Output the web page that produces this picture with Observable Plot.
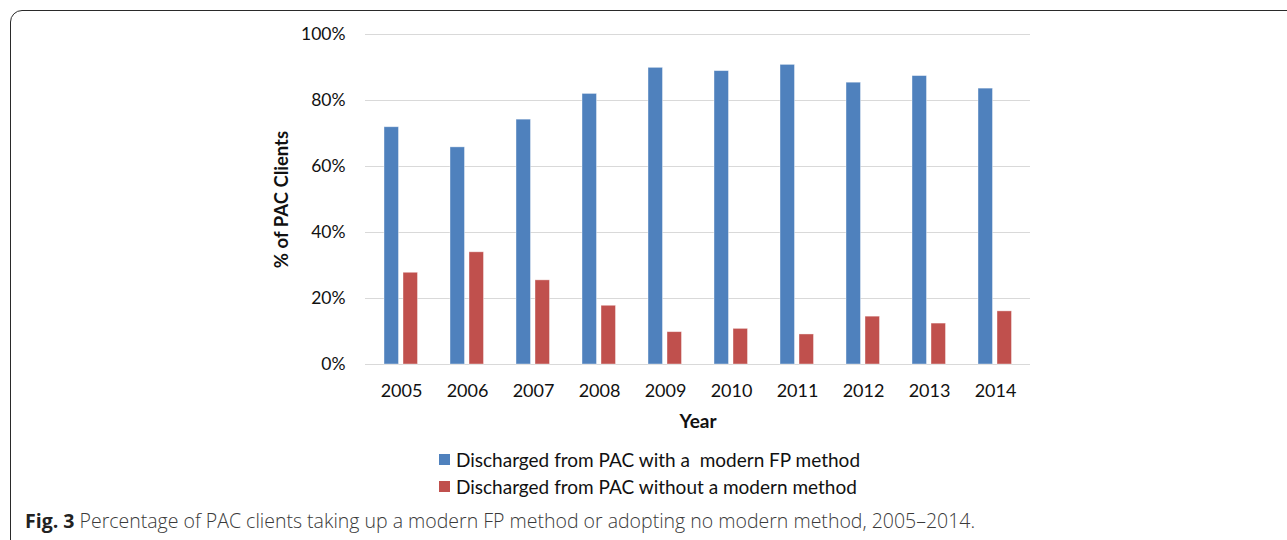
<!DOCTYPE html>
<html>
<head>
<meta charset="utf-8">
<script src="https://cdn.jsdelivr.net/npm/d3@7"></script>
<script src="https://cdn.jsdelivr.net/npm/@observablehq/plot@0.6"></script>
<style>
  html, body { margin: 0; padding: 0; background: #fff; }
  #wrap { position: relative; width: 1287px; height: 540px; overflow: hidden; }
  #frame { position: absolute; left: 10px; top: 10px; width: 1400px; height: 600px;
           border: 1.5px solid #2a2a2a; border-top-left-radius: 12px; box-sizing: border-box; }
  #chart { position: absolute; left: 0; top: 0; }
  #legend { position: absolute; left: 439px; top: 446px; font-family: Lato, sans-serif; font-size: 19px; color: #111; }
  .row { display: flex; align-items: center; height: 27px; white-space: pre; }
  .sw { width: 11px; height: 11px; margin-right: 6px; flex: none; }
  #caption { position: absolute; left: 25px; top: 509px; font-family: "Open Sans", sans-serif; font-size: 19.5px;
             line-height: 24px; color: #3a3a3a; font-weight: 300; white-space: nowrap; }
  #caption b { font-weight: 700; color: #222; }
</style>
</head>
<body>
<div id="wrap">
  <div id="frame"></div>
  <div id="chart"></div>
  <div id="legend"></div>
  <div id="caption"><b>Fig. 3</b> Percentage of PAC clients taking up a modern FP method or adopting no modern method, 2005–2014.</div>
</div>
<script>
const years = ["2005","2006","2007","2008","2009","2010","2011","2012","2013","2014"];
const withMethod = [71.9, 65.8, 74.2, 82.0, 89.9, 88.9, 90.8, 85.4, 87.4, 83.6];
const withoutMethod = [27.8, 34.0, 25.5, 17.8, 9.8, 10.8, 9.1, 14.5, 12.4, 16.1];
const seriesNames = ["Discharged from PAC with a  modern FP method", "Discharged from PAC without a modern method"];
const seriesColors = ["#4f81bd", "#c0504d"];
const yTicks = [0, 20, 40, 60, 80, 100];
const xTitle = "Year";
const yTitle = "% of PAC Clients";

const chart = Plot.plot({
  width: 1287,
  height: 440,
  marginTop: 34,
  marginBottom: 76,
  marginLeft: 365,
  marginRight: 257,
  style: { fontFamily: "Lato, sans-serif", fontSize: "17.5px", color: "#111", background: "transparent", overflow: "visible" },
  x: { domain: years, padding: 0 },
  y: { domain: [0, 100] },
  color: { domain: seriesNames, range: seriesColors },
  marks: [
    Plot.gridY(yTicks, { stroke: "#d9d9d9", strokeOpacity: 1, strokeWidth: 1 }),
    Plot.axisY(yTicks, { tickSize: 0, tickPadding: 20, tickFormat: d => d + "%", label: null }),
    Plot.axisX({ tickSize: 0, tickPadding: 20, label: null, fontSize: 18 }),
    Plot.barY(years, { x: d => d, y: (d, i) => withMethod[i], fill: () => seriesNames[0],
      insetLeft: 16, insetRight: 35.5, stroke: "#fff", strokeOpacity: 0.5, strokeWidth: 0.8 }),
    Plot.barY(years, { x: d => d, y: (d, i) => withoutMethod[i], fill: () => seriesNames[1],
      insetLeft: 35, insetRight: 16.5, stroke: "#fff", strokeOpacity: 0.5, strokeWidth: 0.8 }),
    Plot.text([xTitle], { text: d => d, frameAnchor: "bottom", dy: 63, fontWeight: "bold", fontSize: 19, fill: "#111" }),
    Plot.text([yTitle], { text: d => d, frameAnchor: "left", textAnchor: "middle", dx: -83, rotate: -90, fontWeight: "bold", fontSize: 18.5, fill: "#111" })
  ]
});
document.getElementById("chart").appendChild(chart);

const legend = document.getElementById("legend");
seriesNames.forEach((name, i) => {
  const row = document.createElement("div");
  row.className = "row";
  const sw = document.createElement("span");
  sw.className = "sw";
  sw.style.background = seriesColors[i];
  const label = document.createElement("span");
  label.textContent = name;
  row.appendChild(sw);
  row.appendChild(label);
  legend.appendChild(row);
});
</script>
</body>
</html>
